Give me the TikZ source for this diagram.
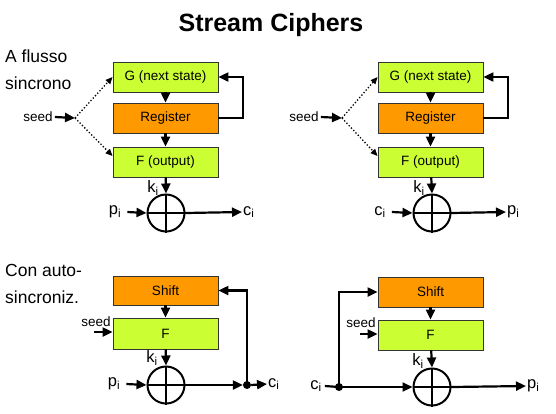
\documentclass[tikz,border=0pt]{standalone}
\usepackage{fontspec}
\setmainfont{Liberation Sans}
\usetikzlibrary{arrows.meta}
\definecolor{lime}{HTML}{CCFF33}
\definecolor{orng}{HTML}{FF9900}
\definecolor{bord}{HTML}{333333}
\begin{document}
\begin{tikzpicture}[x=1pt,y=-1pt,
  box/.style={draw=bord,line width=0.9pt,minimum width=105pt,minimum height=30pt,inner sep=0pt,font=\fontsize{13.5}{15}\selectfont},
  gbox/.style={box,fill=lime},
  obox/.style={box,fill=orng},
  xorc/.style={circle,draw,line width=2pt,minimum size=37pt,inner sep=0pt},
  arr/.style={line width=2.2pt,-{Triangle[length=10pt,width=9pt]}},
  thk/.style={line width=2.2pt},
  dots/.style={line width=1.3pt,dotted,-{Triangle[length=7pt,width=6pt]}},
  lbl/.style={inner sep=1pt,font=\fontsize{16.5}{18}\selectfont},
  sd/.style={inner sep=0pt,font=\fontsize{13.5}{15}\selectfont},
  side/.style={anchor=west,inner sep=0pt,font=\fontsize{17.5}{20}\selectfont},
  jdot/.style={circle,fill,inner sep=0pt,minimum size=8pt}]
\useasboundingbox (0,0) rectangle (556,413);
\node[font=\fontsize{25}{28}\selectfont\bfseries] (title) at (271,25) {Stream Ciphers};
\node[side] (t1) at (5,56) {A flusso};
\node[side] (t2) at (5,83) {sincrono};
\node[side] (t3) at (5,270) {Con auto-};
\node[side] (t4) at (5,297) {sincroniz.};
% ---------- top left ----------
\node[gbox] (G1) at (165.5,77) {G (next state)};
\node[obox] (R1) at (165.5,118) {Register};
\node[gbox] (F1) at (165.5,162) {F (output)};
\node[xorc] (X1) at (166,213) {};
\draw[thk] (X1.north) -- (X1.south) (X1.west) -- (X1.east);
\draw[arr] (G1) -- (R1);
\draw[arr] (R1) -- (F1);
\draw[arr] (F1) -- (X1.north);
\draw[arr] (R1.east) -- (243,118) |- (G1.east);
\node[sd] (s1) at (38,117) {seed};
\coordinate (c1) at (75,118);
\draw[arr] (s1.east) ++(2pt,0) -- (c1);
\draw[dots] (c1) -- (G1.west);
\draw[dots] (c1) -- ([yshift=6pt]F1.west);
\node[lbl] (k1) at (153,188) {k\textsubscript{i}};
\node[lbl] (p1) at (115,212) {p\textsubscript{i}};
\node[lbl,anchor=west] (o1) at (242,212) {c\textsubscript{i}};
\draw[arr] ([xshift=5pt]p1.east) -- (X1.west);
\draw[arr] (X1.east) -- (o1.west);
% ---------- top right ----------
\node[gbox] (G2) at (430.5,77) {G (next state)};
\node[obox] (R2) at (430.5,118) {Register};
\node[gbox] (F2) at (430.5,162) {F (output)};
\node[xorc] (X2) at (432,213) {};
\draw[thk] (X2.north) -- (X2.south) (X2.west) -- (X2.east);
\draw[arr] (G2) -- (R2);
\draw[arr] (R2) -- (F2);
\draw[arr] (F2) -- (X2.north);
\draw[arr] (R2.east) -- (508,118) |- (G2.east);
\node[sd] (s2) at (304,117) {seed};
\coordinate (c2) at (342,118);
\draw[arr] (s2.east) ++(2pt,0) -- (c2);
\draw[dots] (c2) -- (G2.west);
\draw[dots] (c2) -- ([yshift=6pt]F2.west);
\node[lbl] (k2) at (419,188) {k\textsubscript{i}};
\node[lbl] (p2) at (380,212) {c\textsubscript{i}};
\node[lbl,anchor=west] (o2) at (506,212) {p\textsubscript{i}};
\draw[arr] ([xshift=5pt]p2.east) -- (X2.west);
\draw[arr] (X2.east) -- (o2.west);
% ---------- bottom left ----------
\node[obox,minimum height=29pt] (S3) at (165.5,290.5) {Shift};
\node[gbox,minimum height=31pt] (F3) at (165.5,333.5) {F};
\node[xorc] (X3) at (166,385) {};
\draw[thk] (X3.north) -- (X3.south) (X3.west) -- (X3.east);
\draw[arr] (S3) -- (F3);
\draw[arr] (F3) -- (X3.north);
\node[sd] (s3) at (96,322) {seed};
\coordinate (c3) at (94,332);
\draw[arr] (c3) -- (F3.west |- c3);
\node[lbl] (k3) at (152,358) {k\textsubscript{i}};
\node[lbl] (p3) at (114,384) {p\textsubscript{i}};
\node[jdot] (d3) at (247,385) {};
\node[lbl,anchor=west] (o3) at (267,384) {c\textsubscript{i}};
\draw[arr] ([xshift=5pt]p3.east) -- (X3.west);
\draw[arr] (X3.east) -- (d3.west);
\draw[arr] (d3.east) -- (o3.west);
\draw[arr] (d3.center) |- (S3.east);
% ---------- bottom right ----------
\node[obox] (S4) at (430.5,292) {Shift};
\node[gbox] (F4) at (430.5,335) {F};
\node[xorc] (X4) at (432,387) {};
\draw[thk] (X4.north) -- (X4.south) (X4.west) -- (X4.east);
\draw[arr] (S4) -- (F4);
\draw[arr] (F4) -- (X4.north);
\node[sd] (s4) at (361,323) {seed};
\coordinate (c4) at (360,334);
\draw[arr] (c4) -- (F4.west |- c4);
\node[lbl] (k4) at (418,361) {k\textsubscript{i}};
\node[lbl] (p4) at (316,386) {c\textsubscript{i}};
\node[jdot] (d4) at (339,387) {};
\node[lbl,anchor=west] (o4) at (526,386) {p\textsubscript{i}};
\draw[thk] ([xshift=2pt]p4.east) -- (d4.center);
\draw[arr] (d4.center) -- (X4.west);
\draw[arr] (d4.center) |- (S4.west);
\draw[arr] (X4.east) -- (o4.west);
\end{tikzpicture}
\end{document}
